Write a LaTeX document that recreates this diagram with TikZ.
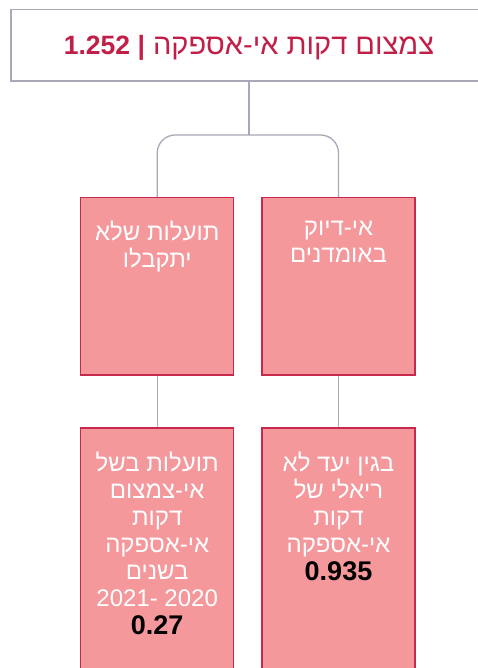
\documentclass[tikz,border=0pt]{standalone}
\usepackage{fontspec}
\setmainfont{Liberation Sans}
\newfontfamily\hebfont[Script=Hebrew]{Liberation Sans}
\TeXXeTstate=1
\definecolor{boxfill}{HTML}{F4989C}
\definecolor{boxborder}{HTML}{C8284B}
\definecolor{titlered}{HTML}{C21F48}
\definecolor{linegray}{HTML}{A8A8B6}
\newcommand\hebl[1]{{\hebfont\beginR #1\endR}}
\tikzset{
  topbox/.style={draw=linegray, line width=1.3pt, fill=white, minimum width=489pt, minimum height=71.5pt, inner sep=0pt},
  pinkbox/.style={draw=boxborder, fill=boxfill, line width=1.3pt, minimum width=153pt, inner sep=0pt},
  upperbox/.style={pinkbox, minimum height=177.3pt},
  lowerbox/.style={pinkbox, minimum height=272pt},
  boxtext/.style={anchor=north, align=center, text=white, inner sep=0pt, font=\fontsize{24}{27}\selectfont},
  titletext/.style={text=titlered, inner sep=0pt, anchor=base, font=\fontsize{29}{32}\selectfont},
  conn/.style={draw=linegray, line width=1.3pt}
}
\begin{document}
\begin{tikzpicture}[x=1pt,y=-1pt]
\useasboundingbox (0,0) rectangle (477,668);
\node[topbox] (top) at (255.5,45.25) {};
\node[titletext] (title) at (249,55) {{\bfseries\fontsize{26.5}{30}\selectfont 1.252 |} \hebl{צמצום דקות אי-אספקה}};

\node[upperbox] (ul) at (157.2,286.3) {};
\node[upperbox] (ur) at (338.5,286.3) {};
\node[lowerbox] (ll) at (157.2,564) {};
\node[lowerbox] (lr) at (338.5,564) {};

\coordinate (j) at (249,135);
\draw[conn] (j |- top.south) -- (j);
\draw[conn, rounded corners=18pt] (ul.north) -- (ul.north |- j) -- (ur.north |- j) -- (ur.north);
\draw[conn] (ul.south) -- (ll.north);
\draw[conn] (ur.south) -- (lr.north);

\node[boxtext] (ult) at ([yshift=-24pt]ul.north) {\hebl{תועלות שלא}\\\hebl{יתקבלו}};
\node[boxtext] (urt) at ([yshift=-24pt]ur.north) {\hebl{אי-דיוק}\\\hebl{באומדנים}};
\node[boxtext] (llt) at ([yshift=-24pt]ll.north) {\hebl{תועלות בשל}\\\hebl{אי-צמצום}\\\hebl{דקות}\\\hebl{אי-אספקה}\\\hebl{בשנים}\\2021- 2020\\[1pt]{\color{black}\bfseries\fontsize{27}{28}\selectfont 0.27}};
\node[boxtext] (lrt) at ([yshift=-24pt]lr.north) {\hebl{בגין יעד לא}\\\hebl{ריאלי של}\\\hebl{דקות}\\\hebl{אי-אספקה}\\[1pt]{\color{black}\bfseries\fontsize{27}{28}\selectfont 0.935}};
\end{tikzpicture}
\end{document}
